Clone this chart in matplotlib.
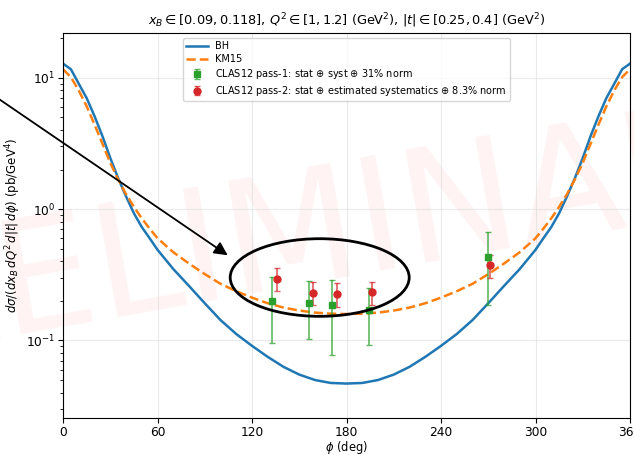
import matplotlib
matplotlib.use("Agg")
import matplotlib.pyplot as plt
from matplotlib.patches import Ellipse
import numpy as np

# theory curves (0..180 deg, the curves are symmetric about 180)
phi_half = [0, 5, 10, 15, 20, 25, 30, 35, 40, 45, 50, 55, 60, 70, 80, 90,
            100, 110, 120, 130, 140, 150, 160, 170, 180]
bh_half = [12.8, 11.6, 9.0, 7.0, 5.1, 3.6, 2.45, 1.72, 1.25, 0.93, 0.73, 0.60, 0.49,
           0.35, 0.26, 0.192, 0.143, 0.112, 0.091, 0.075, 0.063, 0.055, 0.050, 0.0475, 0.047]
km15_half = [11.6, 10.1, 8.0, 6.06, 4.4, 3.15, 2.25, 1.68, 1.3, 1.04, 0.85, 0.71, 0.60,
             0.47, 0.385, 0.32, 0.27, 0.237, 0.212, 0.192, 0.178, 0.169, 0.163, 0.160, 0.159]

phi_curve = phi_half + [360 - p for p in phi_half[-2::-1]]
bh = bh_half + bh_half[-2::-1]
km15 = km15_half + km15_half[-2::-1]

# CLAS12 pass-1 (green squares): value, lower and upper end of the error bar
phi_p1 = [133, 156, 171, 194, 270]
xs_p1 = [0.199, 0.194, 0.185, 0.172, 0.43]
lo_p1 = [0.096, 0.102, 0.078, 0.092, 0.185]
hi_p1 = [0.304, 0.286, 0.290, 0.250, 0.673]

# CLAS12 pass-2 (red circles)
phi_p2 = [136, 158.5, 174, 196, 271]
xs_p2 = [0.295, 0.231, 0.224, 0.232, 0.376]
lo_p2 = [0.236, 0.185, 0.180, 0.185, 0.300]
hi_p2 = [0.356, 0.278, 0.274, 0.281, 0.450]

fig = plt.figure(figsize=(6.34, 4.55), dpi=100)
ax = fig.add_axes([0.0994, 0.0813, 0.8943, 0.8462])

# watermark
ax.text(0.43, 0.47, "PRELIMINARY", transform=ax.transAxes, fontsize=112,
        color="red", alpha=0.05, rotation=10, ha="center", va="center", zorder=0)

ax.plot(phi_curve, bh, color="#1f77b4", lw=1.8, label="BH")
ax.plot(phi_curve, km15, color="#ff7f0e", lw=1.8, ls="--", label="KM15")

yerr1 = [np.array(xs_p1) - np.array(lo_p1), np.array(hi_p1) - np.array(xs_p1)]
yerr2 = [np.array(xs_p2) - np.array(lo_p2), np.array(hi_p2) - np.array(xs_p2)]
ax.errorbar(phi_p1, xs_p1, yerr=yerr1, fmt="s", color="#2ca02c", ms=5, capsize=2.5,
            elinewidth=1.2, ecolor=(0.17, 0.63, 0.17, 0.75),
            label="CLAS12 pass-1: stat $\\oplus$ syst $\\oplus$ 31% norm")
ax.errorbar(phi_p2, xs_p2, yerr=yerr2, fmt="o", color="#d62728", ms=5, capsize=2.5,
            elinewidth=1.2, ecolor=(0.84, 0.15, 0.16, 0.75),
            label="CLAS12 pass-2: stat $\\oplus$ estimated systematics $\\oplus$ 8.3% norm")

ax.set_yscale("log")
ax.set_xlim(0, 360)
ax.set_ylim(0.0257, 21.9)
ax.set_xticks([0, 60, 120, 180, 240, 300, 360])
ax.tick_params(labelsize=8.8, pad=2.2)
ax.grid(True, which="major", color="#dddddd", alpha=0.6, lw=0.8)

ax.set_xlabel("$\\phi$ (deg)", fontsize=8.3, labelpad=0)
ax.set_ylabel("$d\\sigma/(dx_B\\, dQ^2\\, d|t|\\, d\\phi)$ (pb/GeV$^4$)", fontsize=8.5, labelpad=2)
ax.set_title("$x_B \\in [0.09, 0.118]$, $Q^2 \\in [1, 1.2]$ (GeV$^2$), $|t| \\in [0.25, 0.4]$ (GeV$^2$)",
             fontsize=9.3, pad=6)

ax.legend(loc="upper center", fontsize=7.0, framealpha=0.8, borderpad=0.35,
          handlelength=2.2, labelspacing=0.3)

# highlight ellipse and arrow
ax.add_patch(Ellipse((0.4527, 0.3649), 0.3157, 0.2016, transform=ax.transAxes,
                     fill=False, ec="black", lw=2, zorder=5))
ax.annotate("", xy=(0.2945, 0.4186), xytext=(-0.217, 0.933),
            xycoords="axes fraction", textcoords="axes fraction",
            annotation_clip=False,
            arrowprops=dict(arrowstyle="-|>", color="black", lw=1.3, mutation_scale=20))

fig.savefig("out.png", dpi=100)
